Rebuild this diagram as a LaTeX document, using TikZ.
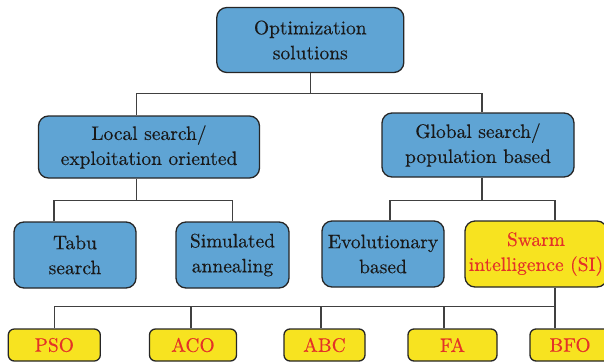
\documentclass[tikz,border=0pt]{standalone}
\usepackage{fontspec}
\newfontfamily\boxfont{lmroman10-regular.otf}[FakeBold=0.3]
\usepackage{xcolor}
\definecolor{boxblue}{RGB}{95,164,212}
\definecolor{boxyellow}{RGB}{247,227,32}
\definecolor{textred}{RGB}{228,50,40}

\begin{document}
\begin{tikzpicture}[x=1pt,y=-1pt,
  every node/.style={font=\boxfont\fontsize{19.5}{25}\selectfont, align=center, inner sep=0pt},
  bluebox/.style={draw=black!85, line width=1.3pt, fill=boxblue, rounded corners=10pt, text=black!90},
  swarmbox/.style={draw=black!85, line width=1.3pt, fill=boxyellow, rounded corners=10pt, text=textred},
  algbox/.style={draw=black!85, line width=1.3pt, fill=boxyellow, rounded corners=6pt, text=textred, minimum height=32pt},
  link/.style={draw=black!75, line width=1.2pt}]
%\draw[help lines] (0,0) grid[step=50] (604,362);
\useasboundingbox (0,0) rectangle (604,362);
\clip (0,0) rectangle (604,362);

\node[bluebox, minimum width=187pt, minimum height=65pt] (opt) at (310.3,40) {Optimization\\solutions};

\node[bluebox, minimum width=221pt, minimum height=62pt] (local) at (149,147) {Local search/\\exploitation oriented};
\node[bluebox, minimum width=192pt, minimum height=64pt] (global) at (478,145) {Global search/\\population based};

\node[bluebox, minimum width=122pt, minimum height=66pt] (tabu) at (75,255) {Tabu\\search};
\node[bluebox, minimum width=113pt, minimum height=66pt] (sim) at (232.5,255) {Simulated\\annealing};
\node[bluebox, minimum width=122pt, minimum height=66pt] (evo) at (383,254) {Evolutionary\\based};
\node[swarmbox, minimum width=142pt, minimum height=66pt] (swarm) at (536,254) {Swarm\\intelligence (SI)};

\node[algbox, minimum width=92pt] (pso) at (54.3,345) {PSO};
\node[algbox, minimum width=87pt] (aco) at (193,345) {ACO};
\node[algbox, minimum width=81pt] (abc) at (324.5,345) {ABC};
\node[algbox, minimum width=89pt] (fa) at (452.5,345) {FA};
\node[algbox, minimum width=80pt] (bfo) at (570,345) {BFO};

\coordinate (bus1) at (310.3,93.7);
\coordinate (bus2) at (136.7,200.7);
\coordinate (bus3) at (482,200.7);
\coordinate (bus4) at (555,306.7);

\draw[link] (opt.south) -- (bus1);
\draw[link] ([xshift=-12.3pt]local.north) |- (bus1) -| ([xshift=4pt]global.north);

\draw[link] ([xshift=-12.3pt]local.south) -- (bus2);
\draw[link] ([xshift=-21pt]tabu.north) |- (bus2) -| (sim.north);

\draw[link] ([xshift=4pt]global.south) -- (bus3);
\draw[link] ([xshift=7pt]evo.north) |- (bus3) -| ([xshift=19pt]swarm.north);

\draw[link] ([xshift=19pt]swarm.south) -- ([xshift=-15pt]bfo.north);
\draw[link] (pso.north) |- (bus4);
\foreach \n/\s in {aco/-2,abc/-3.5,fa/-8.5}
  \draw[link] ([xshift=\s pt]\n.north) -- ([xshift=\s pt]\n.north |- bus4);
\end{tikzpicture}
\end{document}
